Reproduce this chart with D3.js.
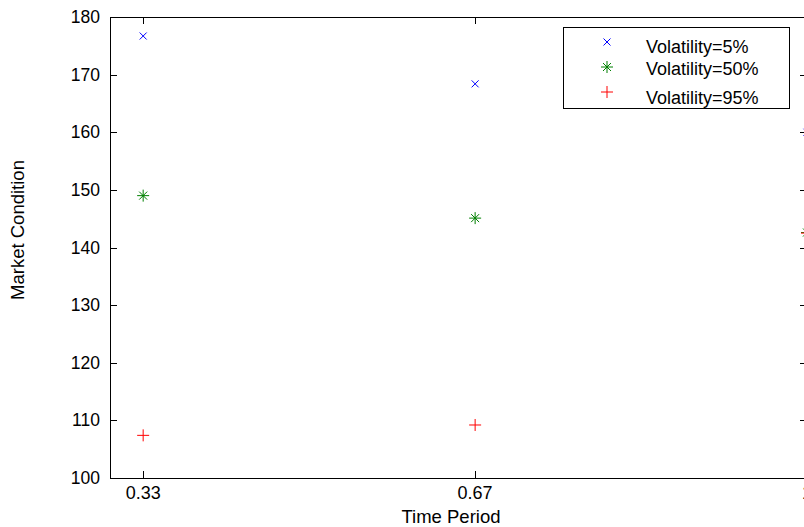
<!DOCTYPE html>
<html>
<head>
<meta charset="utf-8">
<script src="https://cdn.jsdelivr.net/npm/d3@7"></script>
<style>
  body { margin: 0; background: #fff; }
  text { font-family: "Liberation Sans", Arial, sans-serif; }
</style>
</head>
<body>
<svg id="chart"></svg>
<script>
// time periods and market condition per volatility
var periods = [0.3333, 0.6667, 1];
var vol5 = [176.7, 168.4, 160.0];
var vol50 = [149.0, 145.1, 142.6];
var vol95 = [107.4, 109.2, 142.5];
var seriesNames = ["Volatility=5%", "Volatility=50%", "Volatility=95%"];
var xTicks = [0.3333, 0.6667, 1];
var xTickLabels = ["0.33", "0.67", "1"];
var yTicks = [100, 110, 120, 130, 140, 150, 160, 170, 180];

var width = 804, height = 527;
var plotL = 110, plotR = 807, plotT = 17, plotB = 478;

var svg = d3.select("#chart").attr("width", width).attr("height", height);

var x = d3.scaleLinear().domain([0.3, 1]).range([plotL, plotR]);
var y = d3.scaleLinear().domain([100, 180]).range([plotB, plotT]);

// box
svg.append("rect")
  .attr("x", plotL + 0.5).attr("y", plotT + 0.5)
  .attr("width", plotR - plotL).attr("height", plotB - plotT)
  .attr("fill", "none").attr("stroke", "#000").attr("stroke-width", 1);

var tickLen = 7;
var g = svg.append("g");

// x ticks bottom/top
xTicks.forEach(function(t, i) {
  var px = Math.round(x(t)) + 0.5;
  g.append("line").attr("x1", px).attr("x2", px)
    .attr("y1", plotB).attr("y2", plotB - tickLen).attr("stroke", "#000");
  g.append("line").attr("x1", px).attr("x2", px)
    .attr("y1", plotT).attr("y2", plotT + tickLen).attr("stroke", "#000");
  g.append("text").attr("x", x(t)).attr("y", plotB + 21)
    .attr("text-anchor", "middle").attr("font-size", 18)
    .text(xTickLabels[i]);
});

// y ticks left/right
yTicks.forEach(function(t) {
  var py = Math.round(y(t)) + 0.5;
  g.append("line").attr("x1", plotL).attr("x2", plotL + tickLen)
    .attr("y1", py).attr("y2", py).attr("stroke", "#000");
  g.append("line").attr("x1", plotR).attr("x2", plotR - tickLen)
    .attr("y1", py).attr("y2", py).attr("stroke", "#000");
  g.append("text").attr("x", plotL - 10).attr("y", y(t) + 6)
    .attr("text-anchor", "end").attr("font-size", 17.5)
    .text(t);
});

// axis labels
svg.append("text").attr("x", 451).attr("y", 523)
  .attr("text-anchor", "middle").attr("font-size", 18.5).text("Time Period");
svg.append("text")
  .attr("transform", "translate(24," + 230 + ")rotate(-90)")
  .attr("text-anchor", "middle").attr("font-size", 18.5).text("Market Condition");

// markers
function drawMarker(sel, type, cx, cy, color) {
  var p;
  if (type === "x") {
    var s = 3.5;
    p = "M" + (cx - s) + "," + (cy - s) + "L" + (cx + s) + "," + (cy + s) +
        "M" + (cx - s) + "," + (cy + s) + "L" + (cx + s) + "," + (cy - s);
  } else if (type === "plus") {
    var s = 6;
    p = "M" + (cx - s) + "," + cy + "L" + (cx + s) + "," + cy +
        "M" + cx + "," + (cy - s) + "L" + cx + "," + (cy + s);
  } else {
    var s = 6, d = 4;
    p = "M" + (cx - s) + "," + cy + "L" + (cx + s) + "," + cy +
        "M" + cx + "," + (cy - s) + "L" + cx + "," + (cy + s) +
        "M" + (cx - d) + "," + (cy - d) + "L" + (cx + d) + "," + (cy + d) +
        "M" + (cx - d) + "," + (cy + d) + "L" + (cx + d) + "," + (cy - d);
  }
  sel.append("path").attr("d", p).attr("stroke", color)
    .attr("stroke-width", 1).attr("fill", "none");
}

var series = [
  { vals: vol5, type: "x", color: "#0000ff" },
  { vals: vol50, type: "star", color: "#008000" },
  { vals: vol95, type: "plus", color: "#ff0000" }
];

var marks = svg.append("g");
series.forEach(function(s) {
  s.vals.forEach(function(v, i) {
    drawMarker(marks, s.type, x(periods[i]), y(v), s.color);
  });
});

// legend
var lg = svg.append("g");
lg.append("rect").attr("x", 563.5).attr("y", 27.5)
  .attr("width", 226).attr("height", 81)
  .attr("fill", "#fff").attr("stroke", "#000");
var markerY = [42, 67, 92];
var textY = [53, 75, 104];
series.forEach(function(s, i) {
  drawMarker(lg, s.type, 607, markerY[i], s.color);
  lg.append("text").attr("x", 646).attr("y", textY[i])
    .attr("font-size", 18).text(seriesNames[i]);
});
</script>
</body>
</html>
